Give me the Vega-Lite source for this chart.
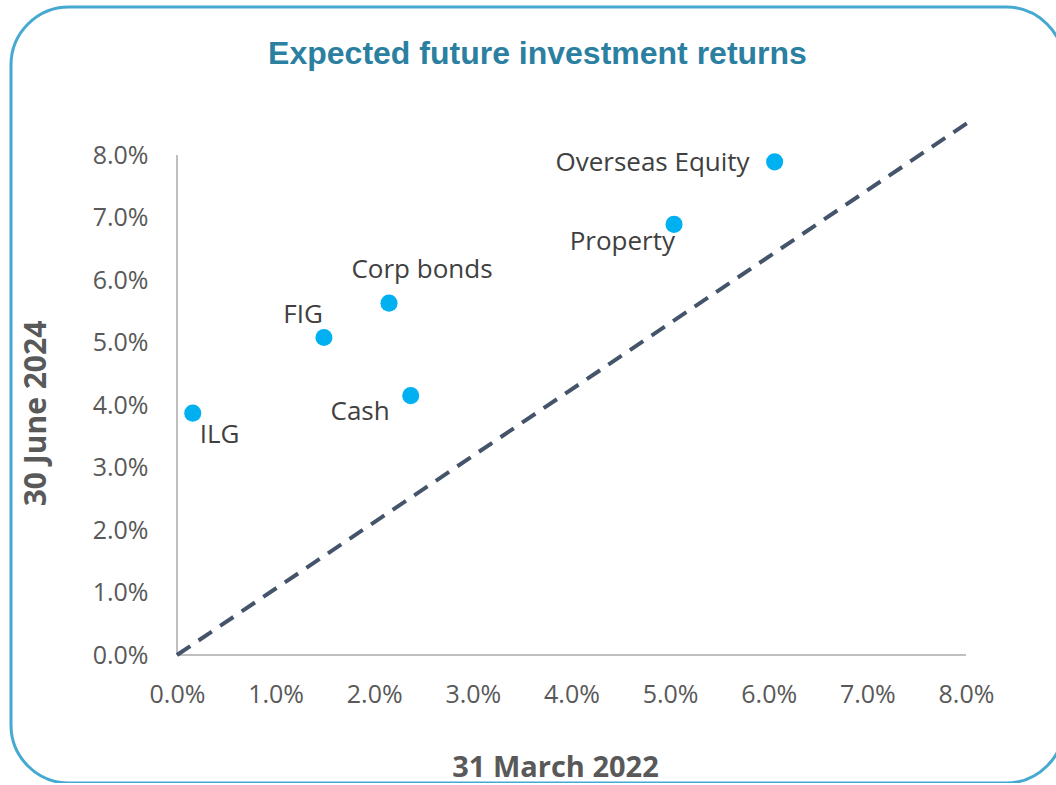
{
  "$schema": "https://vega.github.io/schema/vega-lite/v6.json",
  "width": 1053,
  "height": 776,
  "autosize": {"type": "none"},
  "padding": {"left": 11, "top": 7, "right": 0, "bottom": 0},
  "background": "white",
  "config": {
    "view": {"stroke": "#45a9d1", "strokeWidth": 3, "cornerRadius": 58},
    "font": "Open Sans"
  },
  "title": {
    "text": "Expected future investment returns",
    "font": "Liberation Sans",
    "fontSize": 32,
    "fontWeight": "bold",
    "color": "#2b80a1",
    "anchor": "middle",
    "offset": -89,
    "baseline": "alphabetic"
  },
  "datasets": {
    "points": [
      {"label": "ILG", "x": 0.16, "y": 3.87},
      {"label": "FIG", "x": 1.49, "y": 5.08},
      {"label": "Corp bonds", "x": 2.15, "y": 5.63},
      {"label": "Cash", "x": 2.37, "y": 4.15},
      {"label": "Property", "x": 5.04, "y": 6.89},
      {"label": "Overseas Equity", "x": 6.06, "y": 7.89}
    ],
    "axes": [
      {"x": 0, "x2": 8, "y": 0, "y2": 0},
      {"x": 0, "x2": 0, "y": 0, "y2": 8}
    ],
    "diag": [
      {"x": 0, "y": 0},
      {"x": 8.05, "y": 8.55}
    ]
  },
  "encoding": {
    "x": {
      "field": "x",
      "type": "quantitative",
      "scale": {"domain": [-1.683, 8.994], "nice": false, "zero": false},
      "axis": {
        "values": [0, 1, 2, 3, 4, 5, 6, 7, 8],
        "labelExpr": "format(datum.value, '.1f') + '%'",
        "domain": false,
        "ticks": false,
        "tickSize": 0,
        "grid": false,
        "offset": -128,
        "labelPadding": 27,
        "labelFont": "Open Sans",
        "labelFontSize": 25,
        "labelColor": "#595959",
        "title": "31 March 2022",
        "titleFont": "Open Sans",
        "titleFontSize": 29,
        "titleFontWeight": "bold",
        "titleColor": "#595959",
        "titleBaseline": "alphabetic",
        "titleAlign": "center",
        "titleX": 544,
        "titleY": 121
      }
    },
    "y": {
      "field": "y",
      "type": "quantitative",
      "scale": {"domain": [-2.048, 10.368], "nice": false, "zero": false},
      "axis": {
        "values": [0, 1, 2, 3, 4, 5, 6, 7, 8],
        "labelExpr": "format(datum.value, '.1f') + '%'",
        "domain": false,
        "ticks": false,
        "tickSize": 0,
        "grid": false,
        "offset": -166,
        "labelPadding": 29,
        "labelFont": "Open Sans",
        "labelFontSize": 25,
        "labelColor": "#595959",
        "title": "30 June 2024",
        "titleFont": "Open Sans",
        "titleFontSize": 30,
        "titleFontWeight": "bold",
        "titleColor": "#595959",
        "titleBaseline": "alphabetic",
        "titleAlign": "center",
        "titleAngle": -90,
        "titleX": -132,
        "titleY": 406
      }
    }
  },
  "layer": [
    {
      "data": {"name": "axes"},
      "mark": {"type": "rule", "color": "#bfbfbf", "strokeWidth": 2},
      "encoding": {
        "x2": {"field": "x2"},
        "y2": {"field": "y2"}
      }
    },
    {
      "data": {"name": "diag"},
      "mark": {"type": "line", "color": "#44546a", "strokeWidth": 4, "strokeDash": [16, 10]},
      "encoding": {}
    },
    {
      "data": {"name": "points"},
      "mark": {"type": "point", "filled": true, "size": 290, "color": "#00b0f0", "opacity": 1},
      "encoding": {}
    },
    {
      "data": {"name": "points"},
      "transform": [{"filter": "datum.label === 'ILG'"}],
      "mark": {"type": "text", "align": "left", "baseline": "alphabetic", "dx": 7, "dy": 30, "fontSize": 26, "color": "#404040"},
      "encoding": {"text": {"field": "label"}}
    },
    {
      "data": {"name": "points"},
      "transform": [{"filter": "datum.label === 'FIG'"}],
      "mark": {"type": "text", "align": "right", "baseline": "alphabetic", "dx": -1, "dy": -15, "fontSize": 26, "color": "#404040"},
      "encoding": {"text": {"field": "label"}}
    },
    {
      "data": {"name": "points"},
      "transform": [{"filter": "datum.label === 'Corp bonds'"}],
      "mark": {"type": "text", "align": "center", "baseline": "alphabetic", "dx": 33, "dy": -25, "fontSize": 26, "color": "#404040"},
      "encoding": {"text": {"field": "label"}}
    },
    {
      "data": {"name": "points"},
      "transform": [{"filter": "datum.label === 'Cash'"}],
      "mark": {"type": "text", "align": "right", "baseline": "alphabetic", "dx": -21, "dy": 24, "fontSize": 26, "color": "#404040"},
      "encoding": {"text": {"field": "label"}}
    },
    {
      "data": {"name": "points"},
      "transform": [{"filter": "datum.label === 'Property'"}],
      "mark": {"type": "text", "align": "right", "baseline": "alphabetic", "dx": 1, "dy": 26, "fontSize": 26, "color": "#404040"},
      "encoding": {"text": {"field": "label"}}
    },
    {
      "data": {"name": "points"},
      "transform": [{"filter": "datum.label === 'Overseas Equity'"}],
      "mark": {"type": "text", "align": "right", "baseline": "alphabetic", "dx": -25, "dy": 9, "fontSize": 26, "color": "#404040"},
      "encoding": {"text": {"field": "label"}}
    }
  ]
}
